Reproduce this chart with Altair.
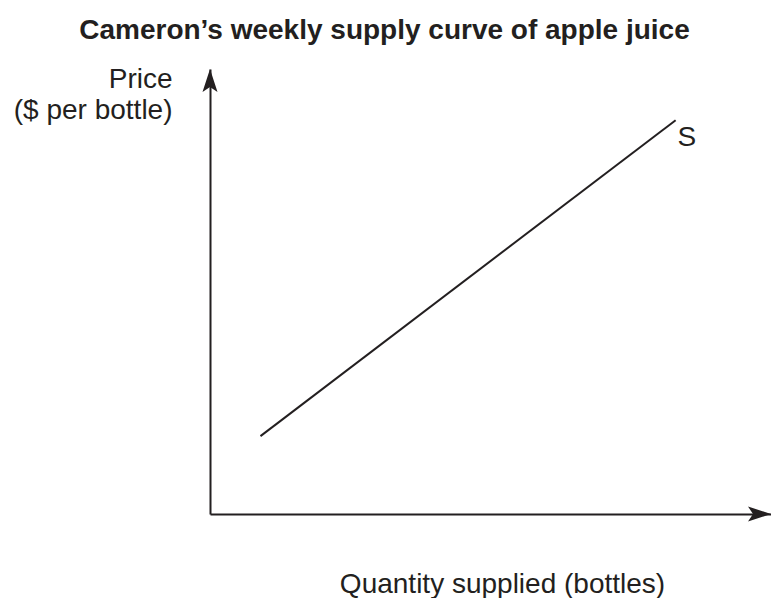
import altair as alt
import pandas as pd

# ---- data (abstract units) ----
axis_max_q = 10.0          # end of the quantity axis (arrow tip)
axis_max_p = 10.0          # end of the price axis (arrow tip)
supply_q = [0.9, 8.3]      # quantity supplied at the two ends of S
supply_p = [1.75, 8.85]    # price at the two ends of S
label_text = ["S"]
label_q = [8.5]
label_p = [8.45]

INK = "#231f20"
FONT = "Liberation Sans"

supply = pd.DataFrame({"q": supply_q, "p": supply_p})
label = pd.DataFrame({"q": label_q, "p": label_p, "t": label_text})
arrow_up = pd.DataFrame({"q": [0.0], "p": [axis_max_p]})
arrow_right = pd.DataFrame({"q": [axis_max_q], "p": [0.0]})

xs = alt.Scale(domain=[0, axis_max_q], nice=False, zero=False)
ys = alt.Scale(domain=[0, axis_max_p], nice=False, zero=False)

x_axis = alt.Axis(
    domain=True, domainColor=INK, domainWidth=2, ticks=False, labels=False, grid=False,
    title="Quantity supplied (bottles)", titleFont=FONT, titleFontSize=28,
    titleFontWeight="normal", titleColor=INK, titleX=292, titleY=78,
    titleAlign="center", titleBaseline="alphabetic",
)
y_axis = alt.Axis(
    domain=True, domainColor=INK, domainWidth=2, ticks=False, labels=False, grid=False,
    title=["Price", "($ per bottle)"], titleFont=FONT, titleFontSize=28,
    titleFontWeight="normal", titleColor=INK, titleAngle=0, titleAlign="right",
    titleX=-38, titleY=18, titleBaseline="alphabetic", titleLineHeight=31,
)

line = alt.Chart(supply).mark_line(color=INK, strokeWidth=2).encode(
    x=alt.X("q:Q", scale=xs, axis=x_axis),
    y=alt.Y("p:Q", scale=ys, axis=y_axis),
)

s_label = alt.Chart(label).mark_text(
    font=FONT, fontSize=28, color=INK, align="center", baseline="middle"
).encode(x=alt.X("q:Q", scale=xs), y=alt.Y("p:Q", scale=ys), text="t:N")

up_path = "M0,0 L0.75,2.3 L0,1.8 L-0.75,2.3 Z"
right_path = "M0,0 L-2.3,0.75 L-1.8,0 L-2.3,-0.75 Z"

head_up = alt.Chart(arrow_up).mark_point(
    shape=up_path, size=400, filled=True, color=INK, opacity=1, strokeWidth=0
).encode(x=alt.X("q:Q", scale=xs), y=alt.Y("p:Q", scale=ys))

head_right = alt.Chart(arrow_right).mark_point(
    shape=right_path, size=400, filled=True, color=INK, opacity=1, strokeWidth=0
).encode(x=alt.X("q:Q", scale=xs), y=alt.Y("p:Q", scale=ys))

chart = (
    alt.layer(line, s_label, head_up, head_right)
    .properties(
        width=561,
        height=445,
        background="white",
        autosize=alt.AutoSizeParams(type="none"),
        padding={"left": 202, "top": 61, "right": 0, "bottom": 84},
        title=alt.TitleParams(
            "Cameron\u2019s weekly supply curve of apple juice",
            font=FONT, fontSize=28, fontWeight="bold", color=INK,
            anchor="middle", dx=-106, dy=2, baseline="alphabetic", offset=0,
        ),
    )
    .configure_view(strokeWidth=0, stroke="transparent")
)

chart.save("out.html", embed_options={"renderer": "svg", "actions": False})
